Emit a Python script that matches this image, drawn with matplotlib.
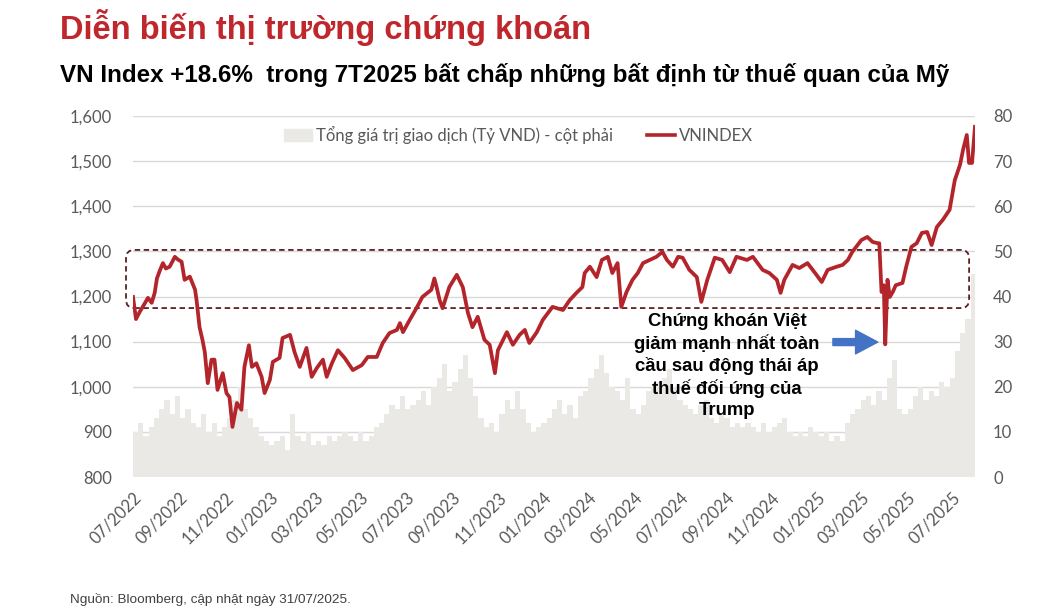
import numpy as np
import pandas as pd
import matplotlib
matplotlib.use('Agg')
import matplotlib.pyplot as plt
from matplotlib.patches import FancyBboxPatch, Patch
from matplotlib.lines import Line2D
from matplotlib.ticker import FuncFormatter

plt.rcParams['font.family'] = ['Lato', 'DejaVu Sans']

# VNINDEX
idx_dates = ['2022-07-01', '2022-07-05', '2022-07-10', '2022-07-14', '2022-07-21', '2022-07-26',
             '2022-07-30', '2022-08-02', '2022-08-06', '2022-08-10', '2022-08-14', '2022-08-19',
             '2022-08-26', '2022-08-30', '2022-09-04', '2022-09-08', '2022-09-15', '2022-09-22',
             '2022-09-24', '2022-09-28', '2022-10-02', '2022-10-05', '2022-10-09', '2022-10-14',
             '2022-10-18', '2022-10-22', '2022-10-29', '2022-11-03', '2022-11-07', '2022-11-11',
             '2022-11-17', '2022-11-23', '2022-11-27', '2022-12-03', '2022-12-07', '2022-12-13',
             '2022-12-20', '2022-12-24', '2022-12-31', '2023-01-04', '2023-01-13', '2023-01-17',
             '2023-01-27', '2023-02-02', '2023-02-09', '2023-02-18', '2023-02-25', '2023-03-04',
             '2023-03-12', '2023-03-17', '2023-03-24', '2023-04-01', '2023-04-10', '2023-04-21',
             '2023-05-03', '2023-05-11', '2023-05-23', '2023-05-31', '2023-06-09', '2023-06-19',
             '2023-06-23', '2023-06-27', '2023-07-06', '2023-07-15', '2023-07-23', '2023-08-04',
             '2023-08-08', '2023-08-11', '2023-08-15', '2023-08-19', '2023-08-28', '2023-09-07',
             '2023-09-15', '2023-09-22', '2023-09-28', '2023-10-05', '2023-10-14', '2023-10-21',
             '2023-10-28', '2023-11-01', '2023-11-13', '2023-11-21', '2023-11-30', '2023-12-07',
             '2023-12-13', '2023-12-23', '2023-12-31', '2024-01-13', '2024-01-27', '2024-02-05',
             '2024-02-14', '2024-02-22', '2024-02-25', '2024-03-03', '2024-03-12', '2024-03-19',
             '2024-03-27', '2024-04-02', '2024-04-09', '2024-04-14', '2024-04-21', '2024-04-29',
             '2024-05-06', '2024-05-13', '2024-05-22', '2024-05-31', '2024-06-08', '2024-06-14',
             '2024-06-22', '2024-06-29', '2024-07-05', '2024-07-14', '2024-07-24', '2024-07-30',
             '2024-08-07', '2024-08-17', '2024-08-27', '2024-09-06', '2024-09-15', '2024-09-29',
             '2024-10-07', '2024-10-20', '2024-10-29', '2024-11-08', '2024-11-13', '2024-11-18',
             '2024-11-29', '2024-12-08', '2024-12-19', '2024-12-31', '2025-01-07', '2025-01-15',
             '2025-01-27', '2025-02-04', '2025-02-11', '2025-02-17', '2025-03-01', '2025-03-09',
             '2025-03-16', '2025-03-23', '2025-03-25', '2025-03-28', '2025-03-31', '2025-04-02',
             '2025-04-05', '2025-04-08', '2025-04-12', '2025-04-16', '2025-04-25', '2025-04-30',
             '2025-05-07', '2025-05-14', '2025-05-21', '2025-05-28', '2025-06-03', '2025-06-10',
             '2025-06-18', '2025-06-27', '2025-07-04', '2025-07-11', '2025-07-15', '2025-07-20',
             '2025-07-23', '2025-07-27', '2025-07-31']
vnindex = [1199, 1150, 1166, 1177, 1197, 1186,
           1208, 1240, 1258, 1274, 1262, 1266,
           1288, 1282, 1277, 1237, 1244, 1215,
           1192, 1132, 1103, 1077, 1008, 1060,
           1060, 993, 1030, 986, 977, 911,
           964, 949, 1044, 1092, 1044, 1052,
           1022, 986, 1015, 1055, 1064, 1108,
           1115, 1077, 1044, 1086, 1022, 1042,
           1060, 1022, 1052, 1081, 1064, 1037,
           1048, 1066, 1066, 1097, 1119, 1126,
           1141, 1121, 1148, 1174, 1199, 1215,
           1240, 1221, 1192, 1174, 1221, 1248,
           1221, 1163, 1132, 1155, 1104, 1093,
           1030, 1081, 1121, 1093, 1115, 1126,
           1097, 1121, 1148, 1177, 1170, 1192,
           1208, 1221, 1252, 1266, 1243, 1281,
           1288, 1252, 1274, 1177, 1210, 1237,
           1252, 1274, 1281, 1288, 1299, 1281,
           1266, 1288, 1286, 1259, 1243, 1188,
           1237, 1286, 1281, 1254, 1288, 1281,
           1288, 1259, 1252, 1237, 1208, 1237,
           1270, 1263, 1274, 1248, 1232, 1259,
           1266, 1270, 1281, 1299, 1325, 1332,
           1321, 1318, 1318, 1210, 1225, 1094,
           1237, 1199, 1210, 1225, 1230, 1266,
           1310, 1318, 1341, 1343, 1314, 1354,
           1370, 1392, 1458, 1492, 1525, 1558,
           1496, 1496, 1576]

# weekly traded value (trillion VND, right axis)
vol_start = '2022-07-01'
volume = [10, 12, 9, 11, 13,  15, 17, 14, 18,  13, 15, 12, 11, 14,  10, 12, 9, 11,
          13, 17, 20, 15,  13, 11, 9, 8, 7,
          8, 9, 6, 14,  9, 8, 10, 7,  8, 7, 9, 8, 9,  10, 9, 8, 10,  8, 9, 11, 12,
          14, 16, 15, 18, 15,  16, 17, 19, 16,  20, 22, 25, 19,  21, 24, 27, 22, 18,
          13, 11, 12, 10,  14, 17, 15, 19,  15, 12, 10, 11, 12,
          13, 15, 17, 14,  16, 13, 18, 19,  22, 24, 27, 23, 20,  19, 17, 22, 15,
          14, 16, 19, 20, 21,  22, 24, 20, 17,  16, 15, 14, 16,  17, 13, 12, 14, 13,
          11, 12, 11, 12,  11, 10, 12, 10,  11, 12, 13, 10, 9,  10, 9, 11, 10,
          9, 10, 8, 9, 8,  12, 14, 15, 17,  18, 16, 19, 17,  22, 26, 15, 14,
          15, 18, 20, 17, 19,  18, 21, 20, 22,  28, 32, 35, 45]

tick_dates = pd.date_range('2022-07-01', '2025-07-01', freq='2MS')
tick_labels = [d.strftime('%m/%Y') for d in tick_dates]

red = '#b3242b'
grey_txt = '#595959'

fig = plt.figure(figsize=(10.5, 6.11), dpi=100)
ax = fig.add_axes([133/1050, 1-477/611, 842/1050, 361/611])
ax2 = ax.twinx()

vol_dates = pd.date_range(vol_start, periods=len(volume), freq='7D')
ax2.bar(vol_dates, volume, width=7, align='edge', color='#ebe9e6', linewidth=0)
ax2.set_ylim(0, 80)
ax2.set_yticks(range(0, 81, 10))
ax2.grid(axis='y', color='#d9d9d9', lw=1)
ax2.set_axisbelow(True)

ax.set_zorder(ax2.get_zorder() + 1)
ax.patch.set_visible(False)
ax.plot(pd.to_datetime(idx_dates), vnindex, color=red, lw=2.7, zorder=3, solid_joinstyle='round')
ax.set_ylim(800, 1600)
ax.set_yticks(range(800, 1601, 100))
ax.yaxis.set_major_formatter(FuncFormatter(lambda v, p: f'{v:,.0f}'))
ax.set_xlim(pd.Timestamp('2022-07-01'), pd.Timestamp('2025-07-31'))
ax.set_xticks(tick_dates)
ax.set_xticklabels(tick_labels, rotation=45, ha='right', va='top', rotation_mode='anchor')

for a in (ax, ax2):
    for s in a.spines.values():
        s.set_visible(False)
    a.tick_params(length=0, labelsize=12, labelcolor=grey_txt)
ax.tick_params(axis='y', pad=15)
ax.tick_params(axis='x', pad=9)
ax2.tick_params(axis='y', pad=13)

# dashed sideways range box
box = FancyBboxPatch((-0.0083, 0.468), 1.0013, 0.161,
                     boxstyle='round,pad=0,rounding_size=0.01', mutation_aspect=842/361,
                     transform=ax.transAxes, fill=False, ec='#5b1f24', ls=(0, (3, 2)),
                     lw=1.3, clip_on=False, zorder=2)
ax.add_patch(box)

# legend
handles = [Patch(color='#ebe9e6'), Line2D([], [], color=red, lw=2.6)]
ax.legend(handles, ['Tổng giá trị giao dịch (Tỷ VND) - cột phải', 'VNINDEX'],
          loc='center', bbox_to_anchor=(0.458, 0.947), ncol=2, frameon=False,
          fontsize=12, labelcolor=grey_txt, handlelength=1.7, handletextpad=0.25,
          columnspacing=2.0)

# annotation
ax.text(0.7055, 0.3075, 'Chứng khoán Việt\ngiảm mạnh nhất toàn\ncầu sau động thái áp\nthuế đối ứng của\nTrump',
        transform=ax.transAxes, ha='center', va='center', fontsize=13.3, fontweight='bold',
        family=['Liberation Sans', 'DejaVu Sans'], linespacing=1.3, color='black', zorder=5)
ax.annotate('', xy=(pd.Timestamp('2025-03-23'), 1099), xytext=(pd.Timestamp('2025-01-22'), 1099),
            arrowprops=dict(arrowstyle='simple,head_length=1.6,head_width=1.7,tail_width=0.5',
                            color='#4472c4', shrinkA=0, shrinkB=0, mutation_scale=10), zorder=5)

fig.text(60/1050, 1-39/611, 'Diễn biến thị trường chứng khoán', color='#c0272d',
         fontsize=23.5, fontweight='bold', family=['Liberation Sans', 'DejaVu Sans'], va='baseline')
fig.text(60/1050, 1-82/611, 'VN Index +18.6%  trong 7T2025 bất chấp những bất định từ thuế quan của Mỹ',
         color='black', fontsize=17.4, fontweight='bold', family=['Liberation Sans', 'DejaVu Sans'],
         va='baseline')
fig.text(70/1050, 1-603/611, 'Nguồn: Bloomberg, cập nhật ngày 31/07/2025.', color='#404040',
         fontsize=9.7, family=['Liberation Sans Narrow', 'Liberation Sans', 'DejaVu Sans'], va='baseline')

fig.savefig('out.png', dpi=100)
